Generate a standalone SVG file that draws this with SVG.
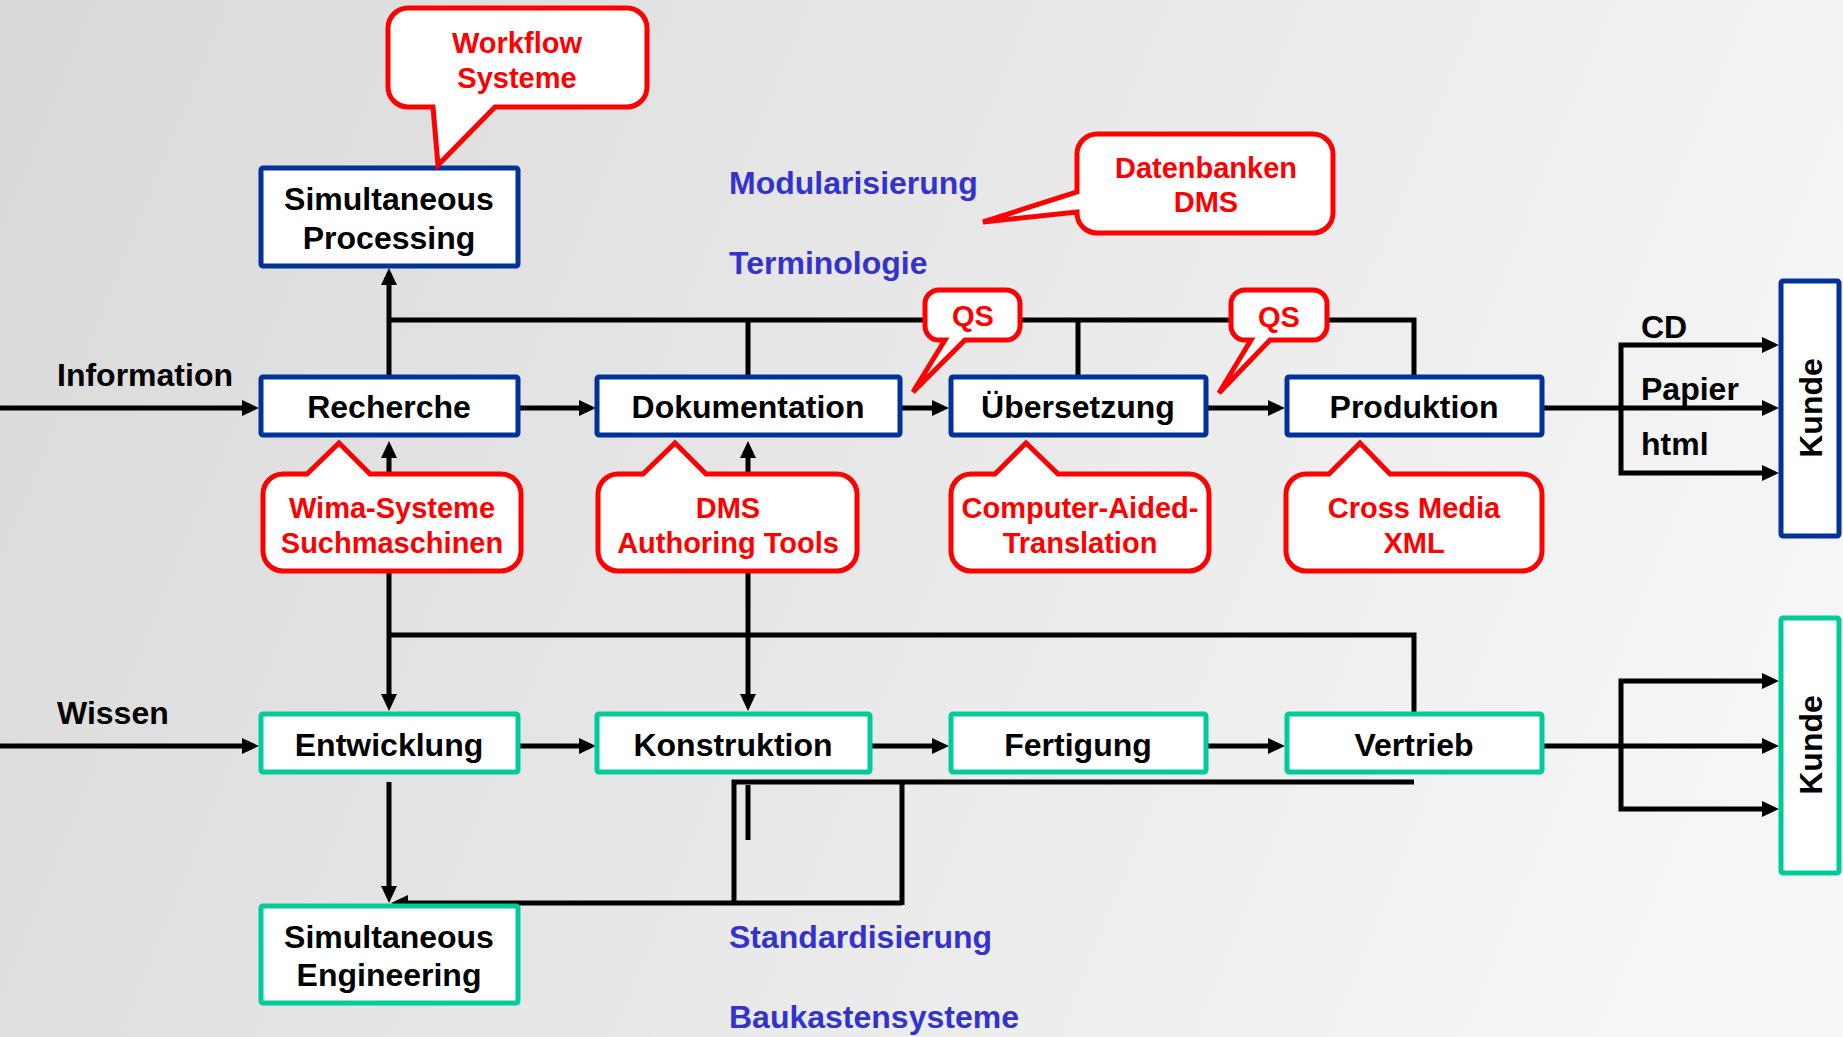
<svg xmlns="http://www.w3.org/2000/svg" width="1843" height="1037" viewBox="0 0 1843 1037">
<defs>
<linearGradient id="bg" gradientUnits="userSpaceOnUse" x1="0" y1="0" x2="1843" y2="750">
<stop offset="0" stop-color="#d9d9d9"/>
<stop offset="1" stop-color="#f7f7f7"/>
</linearGradient>
<marker id="ah" viewBox="0 0 17 16" refX="11" refY="8" markerWidth="17" markerHeight="16" markerUnits="userSpaceOnUse" orient="auto-start-reverse">
<path d="M0,0 L17,8 L0,16 z" fill="#000"/>
</marker>
<style>
text{font-family:"Liberation Sans",Arial,sans-serif;font-weight:bold;}
.lbl{font-size:32px;fill:#000;text-anchor:middle;}
.free{font-size:32px;fill:#000;}
.blue{font-size:32px;fill:#3333cc;}
.red{font-size:29px;fill:#ff0000;text-anchor:middle;}
.bb{fill:#fff;stroke:#003399;stroke-width:5;}
.gb{fill:#fff;stroke:#00cc99;stroke-width:5;}
.co{fill:#fff;stroke:#ff0000;stroke-width:5;stroke-linejoin:miter;}
.ln{fill:none;stroke:#000;stroke-width:5;}
.ar{fill:none;stroke:#000;stroke-width:5;marker-end:url(#ah);}
.ar2{fill:none;stroke:#000;stroke-width:5;marker-start:url(#ah);marker-end:url(#ah);}
</style>
</defs>
<rect width="1843" height="1037" fill="url(#bg)"/>

<g id="connectors">
<path class="ar" d="M0,408 H253"/>
<path class="ar" d="M518,408 H590"/>
<path class="ar" d="M900,408 H943"/>
<path class="ar" d="M1206,408 H1279"/>
<path class="ar" d="M1542,408 H1773"/>
<path class="ar2" d="M1773,345 H1621 V473 H1773"/>
<path class="ln" d="M389,320 H1414 V377"/>
<path class="ln" d="M748,320 V377"/>
<path class="ln" d="M1078,320 V377"/>
<path class="ar" d="M389,377 V274"/>
<path class="ar2" d="M389,447 V705"/>
<path class="ar2" d="M748,447 V705"/>
<path class="ln" d="M389,635 H1414 V714"/>
<path class="ar" d="M0,746 H253"/>
<path class="ar" d="M518,746 H590"/>
<path class="ar" d="M870,746 H943"/>
<path class="ar" d="M1206,746 H1279"/>
<path class="ar" d="M1542,746 H1773"/>
<path class="ar2" d="M1773,681 H1621 V809 H1773"/>
<path class="ar" d="M389,782 V897"/>
<path class="ar" d="M902,903 H397"/>
<path class="ln" d="M902,782 V905"/>
<path class="ln" d="M734,905 V782 H1414"/>
<path class="ln" d="M748,785 V840"/>
</g>

<g id="sim-processing">
<rect class="bb" x="261" y="168" width="257" height="98" rx="2"/>
<text class="lbl" x="389" y="210">Simultaneous</text>
<text class="lbl" x="389" y="249">Processing</text>
</g>
<g id="recherche">
<rect class="bb" x="261" y="377" width="257" height="58" rx="2"/>
<text class="lbl" x="389" y="418">Recherche</text>
</g>
<g id="dokumentation">
<rect class="bb" x="597" y="377" width="303" height="58" rx="2"/>
<text class="lbl" x="748" y="418">Dokumentation</text>
</g>
<g id="uebersetzung">
<rect class="bb" x="951" y="377" width="255" height="58" rx="2"/>
<text class="lbl" x="1078" y="418">Übersetzung</text>
</g>
<g id="produktion">
<rect class="bb" x="1287" y="377" width="255" height="58" rx="2"/>
<text class="lbl" x="1414" y="418">Produktion</text>
</g>
<g id="kunde-top">
<rect class="bb" x="1781" y="281" width="58" height="255" rx="2"/>
<text class="lbl" transform="translate(1822,408) rotate(-90)">Kunde</text>
</g>
<g id="entwicklung">
<rect class="gb" x="261" y="714" width="257" height="58" rx="2"/>
<text class="lbl" x="389" y="756">Entwicklung</text>
</g>
<g id="konstruktion">
<rect class="gb" x="597" y="714" width="273" height="58" rx="2"/>
<text class="lbl" x="733" y="756">Konstruktion</text>
</g>
<g id="fertigung">
<rect class="gb" x="951" y="714" width="255" height="58" rx="2"/>
<text class="lbl" x="1078" y="756">Fertigung</text>
</g>
<g id="vertrieb">
<rect class="gb" x="1287" y="714" width="255" height="58" rx="2"/>
<text class="lbl" x="1414" y="756">Vertrieb</text>
</g>
<g id="kunde-bottom">
<rect class="gb" x="1781" y="618" width="58" height="255" rx="2"/>
<text class="lbl" transform="translate(1822,745) rotate(-90)">Kunde</text>
</g>
<g id="sim-engineering">
<rect class="gb" x="261" y="906" width="257" height="97" rx="2"/>
<text class="lbl" x="389" y="948">Simultaneous</text>
<text class="lbl" x="389" y="986">Engineering</text>
</g>

<g id="callout-workflow">
<path class="co" d="M408,8 H627 A20,20 0 0 1 647,28 V87 A20,20 0 0 1 627,107 H495 L438,165 L433,107 H408 A20,20 0 0 1 388,87 V28 A20,20 0 0 1 408,8 Z"/>
<text class="red" x="517" y="53">Workflow</text>
<text class="red" x="517" y="88">Systeme</text>
</g>
<g id="callout-datenbanken">
<path class="co" d="M1097,134 H1313 A20,20 0 0 1 1333,154 V213 A20,20 0 0 1 1313,233 H1097 A20,20 0 0 1 1077,213 V212 L983,222 L1077,192 V154 A20,20 0 0 1 1097,134 Z"/>
<text class="red" x="1206" y="178">Datenbanken</text>
<text class="red" x="1206" y="212">DMS</text>
</g>
<g id="callout-qs1">
<path class="co" d="M939,290 H1006 A14,14 0 0 1 1020,304 V326 A14,14 0 0 1 1006,340 H965 L913,392 L945,340 H939 A14,14 0 0 1 925,326 V304 A14,14 0 0 1 939,290 Z"/>
<text class="red" x="973" y="326">QS</text>
</g>
<g id="callout-qs2">
<path class="co" d="M1245,290 H1313 A14,14 0 0 1 1327,304 V326 A14,14 0 0 1 1313,340 H1270 L1219,393 L1251,340 H1245 A14,14 0 0 1 1231,326 V304 A14,14 0 0 1 1245,290 Z"/>
<text class="red" x="1279" y="327">QS</text>
</g>
<g id="callout-wima">
<path class="co" d="M283,474 H307 L339,443 L370,474 H501 A20,20 0 0 1 521,494 V551 A20,20 0 0 1 501,571 H283 A20,20 0 0 1 263,551 V494 A20,20 0 0 1 283,474 Z"/>
<text class="red" x="392" y="518">Wima-Systeme</text>
<text class="red" x="392" y="553">Suchmaschinen</text>
</g>
<g id="callout-dms">
<path class="co" d="M618,474 H643 L675,443 L706,474 H837 A20,20 0 0 1 857,494 V551 A20,20 0 0 1 837,571 H618 A20,20 0 0 1 598,551 V494 A20,20 0 0 1 618,474 Z"/>
<text class="red" x="728" y="518">DMS</text>
<text class="red" x="728" y="553">Authoring Tools</text>
</g>
<g id="callout-cat">
<path class="co" d="M971,474 H995 L1026,443 L1058,474 H1189 A20,20 0 0 1 1209,494 V551 A20,20 0 0 1 1189,571 H971 A20,20 0 0 1 951,551 V494 A20,20 0 0 1 971,474 Z"/>
<text class="red" x="1080" y="518">Computer-Aided-</text>
<text class="red" x="1080" y="553">Translation</text>
</g>
<g id="callout-crossmedia">
<path class="co" d="M1306,474 H1329 L1360,443 L1390,474 H1522 A20,20 0 0 1 1542,494 V551 A20,20 0 0 1 1522,571 H1306 A20,20 0 0 1 1286,551 V494 A20,20 0 0 1 1306,474 Z"/>
<text class="red" x="1414" y="518">Cross Media</text>
<text class="red" x="1414" y="553">XML</text>
</g>

<g id="labels">
<text class="free" x="57" y="386">Information</text>
<text class="free" x="57" y="724">Wissen</text>
<text class="free" x="1641" y="338">CD</text>
<text class="free" x="1641" y="400">Papier</text>
<text class="free" x="1641" y="455">html</text>
<text class="blue" x="729" y="194">Modularisierung</text>
<text class="blue" x="729" y="274">Terminologie</text>
<text class="blue" x="729" y="948">Standardisierung</text>
<text class="blue" x="729" y="1028">Baukastensysteme</text>
</g>
</svg>
